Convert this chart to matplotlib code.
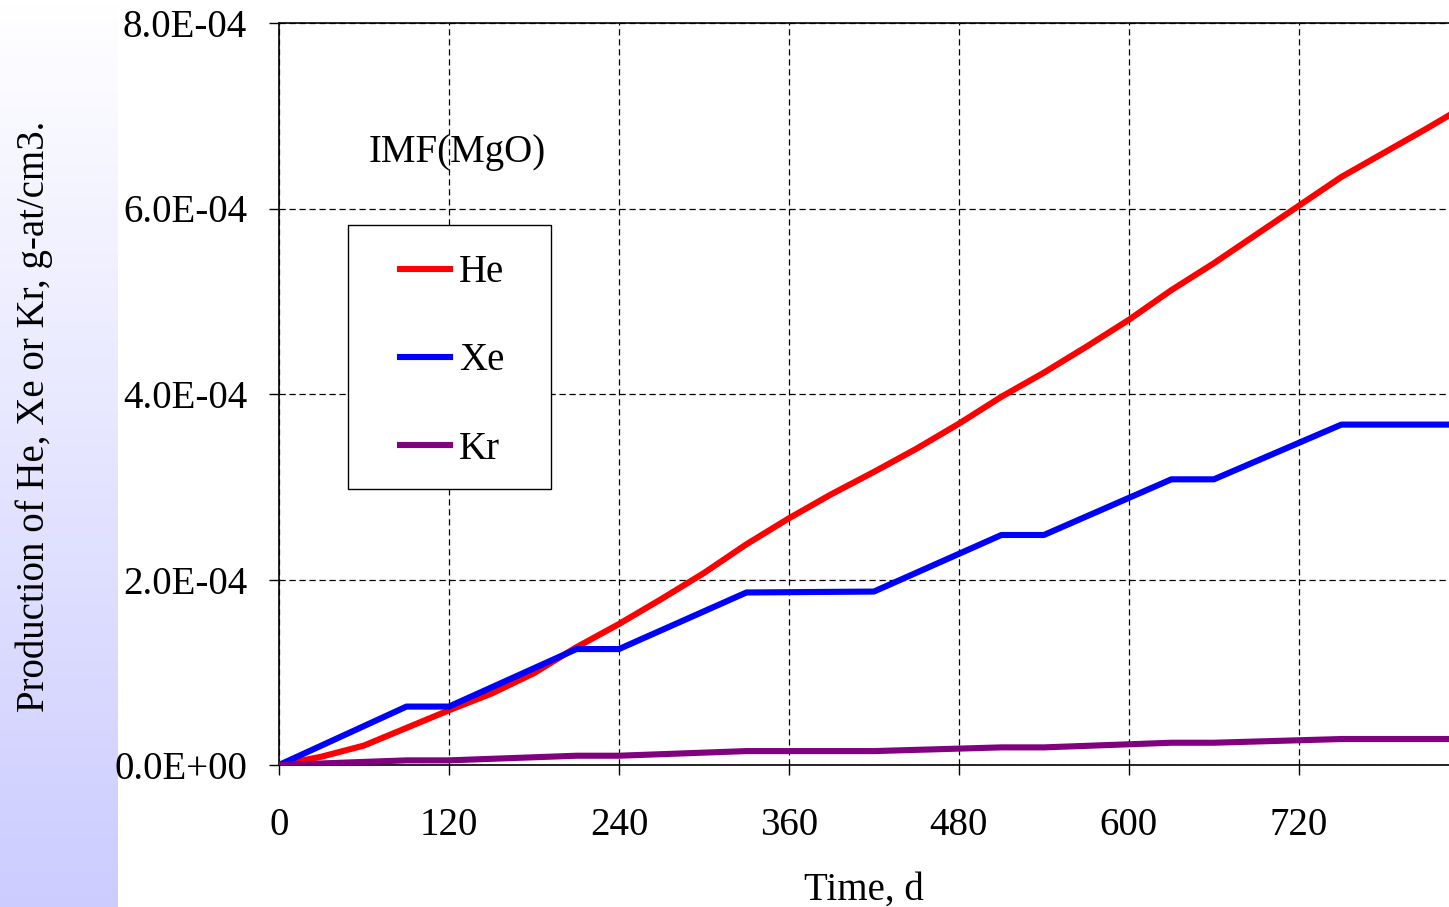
import numpy as np
import matplotlib.pyplot as plt
from matplotlib.patches import Rectangle
from matplotlib.ticker import FuncFormatter

# He production, read every 30 days (units of 1e-4 g-at/cm3)
he_days = [0, 30, 60, 90, 120, 150, 180, 210, 240, 270, 300, 330, 360, 390,
           420, 450, 480, 510, 540, 570, 600, 630, 660, 690, 720, 750, 780, 810, 840]
he_vals = [0.0, 0.09, 0.21, 0.40, 0.59, 0.77, 0.99, 1.27, 1.52, 1.79, 2.07, 2.38, 2.66, 2.92,
           3.16, 3.41, 3.68, 3.97, 4.23, 4.51, 4.80, 5.12, 5.41, 5.72, 6.03, 6.34, 6.60, 6.86, 7.13]

# Xe and Kr change only at the break points
step_days = [0, 90, 120, 210, 240, 330, 420, 510, 540, 630, 660, 750, 840]
xe_vals = [0.0, 0.63, 0.63, 1.25, 1.25, 1.86, 1.87, 2.48, 2.48, 3.08, 3.08, 3.67, 3.67]
kr_vals = [0.0, 0.05, 0.05, 0.10, 0.10, 0.15, 0.15, 0.19, 0.19, 0.24, 0.24, 0.28, 0.28]

x_ticks = [0, 120, 240, 360, 480, 600, 720]
y_ticks = [0, 2e-4, 4e-4, 6e-4, 8e-4]

plt.rcParams['font.family'] = ['Liberation Serif', 'DejaVu Serif']
plt.rcParams['font.size'] = 28

fig = plt.figure(figsize=(14.49, 9.07), dpi=100)

# lavender gradient strip on the left
bg = fig.add_axes([0, 0, 118 / 1449, 1], zorder=-5)
grad = np.linspace(0, 1, 256).reshape(-1, 1)
top = np.array([1.0, 1.0, 1.0])
bottom = np.array([0.80, 0.80, 1.0])
img = top + (bottom - top) * grad[:, :, None]
bg.imshow(img, aspect='auto', extent=[0, 1, 0, 1])
bg.axis('off')

ax = fig.add_axes([279 / 1449, 1 - 765 / 907, 1 - 279 / 1449, (765 - 23) / 907])

scale = 1e-4
ax.plot(he_days, np.array(he_vals) * scale, color='#FF0000', lw=4.4, label='He',
        solid_joinstyle='round', zorder=3)
ax.plot(step_days, np.array(xe_vals) * scale, color='#0000FF', lw=4.4, label='Xe',
        solid_joinstyle='round', zorder=3)
ax.plot(step_days, np.array(kr_vals) * scale, color='#800080', lw=4.4, label='Kr',
        solid_joinstyle='round', zorder=3)

ax.set_xlim(0, 826)
ax.set_ylim(0, 8e-4)
ax.set_xticks(x_ticks)
ax.set_yticks(y_ticks)
ax.yaxis.set_major_formatter(FuncFormatter(lambda v, p: f'{v:.1E}'))
ax.tick_params(axis='both', direction='out', length=7, width=1, labelsize=28)
ax.tick_params(axis='x', pad=23.5)
ax.tick_params(axis='y', pad=16)

ax.grid(True, color='black', lw=0.9, linestyle=(0, (5, 3)), zorder=1)
ax.spines['right'].set_visible(False)
for s in ['left', 'bottom', 'top']:
    ax.spines[s].set_linewidth(1.2)

ax.set_xlabel('Time, d', fontsize=28, labelpad=20)
fig.text(34 / 1449, 1 - 416 / 907, 'Production of He, Xe or Kr, g-at/cm3.',
         rotation=90, ha='center', va='center', fontsize=28)

ax.text(0.152, 0.826, 'IMF(MgO)', transform=ax.transAxes, ha='center', va='center',
        fontsize=28)

ax.add_patch(Rectangle((0.059, 0.372), 0.1735, 0.3558, transform=ax.transAxes,
                       facecolor='white', edgecolor='black', lw=1, zorder=4))
leg = ax.legend(loc='center left', bbox_to_anchor=(0.1034, 0.5445), frameon=False,
                fontsize=28, handlelength=1.29, handletextpad=0.23, labelspacing=1.32,
                borderpad=0, borderaxespad=0)
leg.set_zorder(5)

fig.savefig('out.png', dpi=100)
